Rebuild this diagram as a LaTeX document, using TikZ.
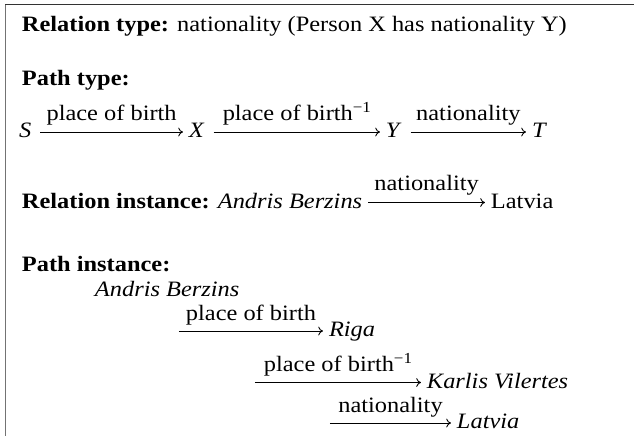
\documentclass[tikz,border=0pt]{standalone}
\usepackage{fontspec}
\setmainfont{Liberation Serif}
\usetikzlibrary{arrows.meta,calc}
\begin{document}
\begin{tikzpicture}[x=0.5pt,y=-0.5pt,
  txt/.style={inner sep=0pt, outer sep=0pt, anchor=base west, yscale=0.9,
    font=\fontsize{12.2}{14}\selectfont},
  lbl/.style={inner sep=0pt, outer sep=0pt, anchor=base, yscale=0.9,
    font=\fontsize{12.2}{14}\selectfont},
  arr/.style={line width=0.45pt, -{To[length=2.4pt,width=4.4pt]}},
  frametop/.style={line width=0.6pt, draw=black!80},
  frameleft/.style={line width=0.9pt, draw=black!55}]
\useasboundingbox (0,0) rectangle (634,436);
% frame (cropped box)
\coordinate (c0) at (5.5,4.5);
\coordinate (c1) at (634,4.5);
\coordinate (c2) at (5.5,436);
\draw[frametop] (c0) -- (c1);
\draw[frameleft] (c0) -- (c2);
% header
\node[txt] (title) at (22,31) {\textbf{Relation type:} nationality (Person X has nationality Y)};
\node[txt] (ptype) at (22,85) {\textbf{Path type:}};
% path type row
\node[txt] (S) at (19,137.5) {\textit{S}};
\node[txt] (X) at (189,137.5) {\textit{X}};
\node[txt] (Y) at (386,137.5) {\textit{Y}};
\node[txt] (T) at (532,137.5) {\textit{T}};
\draw[arr] ($(S.base east)+(9,-5.5)$) -- ($(X.base west)+(-6,-5.5)$)
  node[lbl, midway, yshift=6.5pt] (l1) {place of birth};
\draw[arr] ($(X.base east)+(9,-5.5)$) -- ($(Y.base west)+(-6,-5.5)$)
  node[lbl, midway, yshift=6.5pt] (l2) {place of birth\raisebox{4.6pt}{\fontsize{8.5}{9}\selectfont −1}};
\draw[arr] ($(Y.base east)+(9,-5.5)$) -- ($(T.base west)+(-6,-5.5)$)
  node[lbl, midway, yshift=6.5pt] (l3) {nationality};
% relation instance
\node[txt] (ri) at (22,208) {\textbf{Relation instance:} \textit{Andris Berzins}};
\node[txt] (lat1) at (491,208) {Latvia};
\draw[arr] ($(ri.base east)+(6,-5.5)$) -- ($(lat1.base west)+(-6,-5.5)$)
  node[lbl, midway, yshift=6.5pt] (l4) {nationality};
% path instance
\node[txt] (pinst) at (22,271) {\textbf{Path instance:}};
\node[txt] (andris) at (95,296) {\textit{Andris Berzins}};
\node[txt] (riga) at (329,336.5) {\textit{Riga}};
\node[txt] (karlis) at (427,388) {\textit{Karlis Vilertes}};
\node[txt] (lat2) at (457,428.5) {\textit{Latvia}};
\coordinate (s1) at (179,331);
\coordinate (s2) at (255,382.5);
\coordinate (s3) at (330,423);
\draw[arr] (s1) -- ($(riga.base west)+(-6,-5.5)$)
  node[lbl, midway, yshift=6pt] (l5) {place of birth};
\draw[arr] (s2) -- ($(karlis.base west)+(-6,-5.5)$)
  node[lbl, midway, yshift=6pt] (l6) {place of birth\raisebox{4.6pt}{\fontsize{8.5}{9}\selectfont −1}};
\draw[arr] (s3) -- ($(lat2.base west)+(-6,-5.5)$)
  node[lbl, midway, yshift=6pt] (l7) {nationality};
\end{tikzpicture}
\end{document}
